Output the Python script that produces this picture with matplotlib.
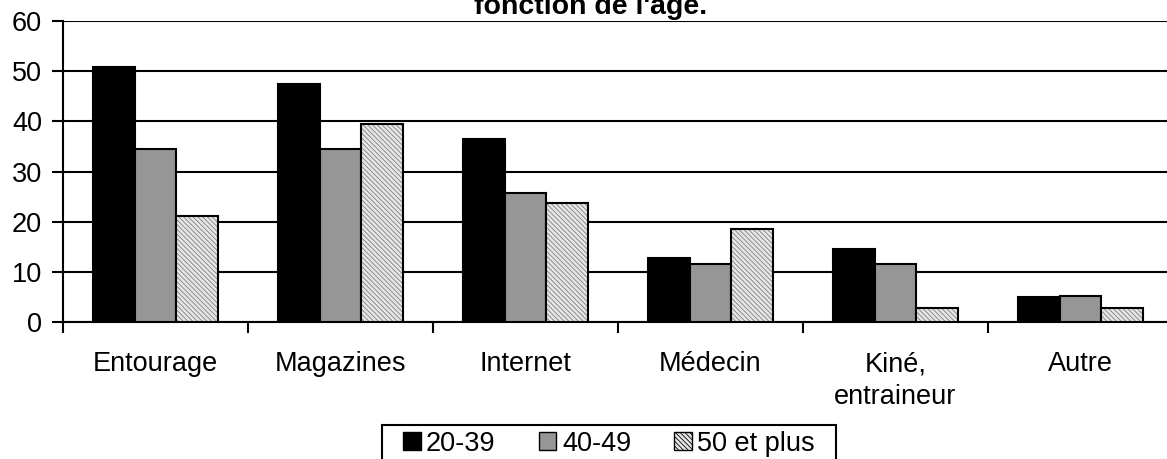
import numpy as np
import matplotlib.pyplot as plt
from matplotlib.patches import Patch, Rectangle

plt.rcParams['font.family'] = ['Liberation Sans', 'DejaVu Sans']
plt.rcParams['hatch.linewidth'] = 0.6

# données
categories = ['Entourage', 'Magazines', 'Internet', 'Médecin', 'Kiné,\nentraineur', 'Autre']
series_names = ['20-39', '40-49', '50 et plus']
v_20_39 = [50.9, 47.5, 36.5, 12.8, 14.5, 4.9]
v_40_49 = [34.5, 34.5, 25.7, 11.5, 11.5, 5.2]
v_50_plus = [21.1, 39.4, 23.7, 18.5, 2.7, 2.7]
y_ticks = [0, 10, 20, 30, 40, 50, 60]
title = "fonction de l'âge."

W, H = 1167, 459
fs = 19.5
fig = plt.figure(figsize=(W / 100, H / 100), dpi=100)
ax = fig.add_axes([63 / W, 1 - 322 / H, 1110 / W, 301 / H])

x = np.arange(len(categories))
w = 0.225
hatch = '\\\\\\\\\\\\\\'
styles = [
    dict(color='black'),
    dict(color='#969696'),
    dict(color='#e6e6e6', hatch=hatch),
]
all_vals = [v_20_39, v_40_49, v_50_plus]
for i, (vals, st) in enumerate(zip(all_vals, styles)):
    bars = ax.bar(x + (i - 1) * w, vals, w, edgecolor='black', linewidth=1.5,
                  zorder=3, **st)
    if 'hatch' in st:
        for b in bars:
            b._hatch_color = (0.5, 0.5, 0.5, 1)

ax.set_xlim(-0.5, len(categories) - 0.5)
ax.set_ylim(0, 60)
ax.set_yticks(y_ticks)
ax.yaxis.grid(True, color='black', linewidth=1.5, zorder=0)
ax.set_axisbelow(True)

ax.set_xticks(x)
ax.set_xticklabels(categories, fontsize=fs, linespacing=1.35)
ax.set_xticks(np.arange(-0.5, len(categories)), minor=True)
ax.tick_params(axis='x', which='major', length=0, pad=21)
ax.tick_params(axis='x', which='minor', length=8, width=1.5, direction='out')
ax.tick_params(axis='y', length=8, width=1.5, direction='out', labelsize=fs, pad=7)

for s in ['top', 'right']:
    ax.spines[s].set_visible(False)
for s in ['left', 'bottom']:
    ax.spines[s].set_linewidth(1.5)

fig.text(591 / W, 1 - 14 / H, title, ha='center', va='baseline',
         fontsize=20.5, fontweight='bold')

# légende (cadre dessiné à part)
handles = [Patch(facecolor='black', edgecolor='black'),
           Patch(facecolor='#969696', edgecolor='black'),
           Patch(facecolor='#e6e6e6', edgecolor='black', hatch=hatch)]
leg = fig.legend(handles, series_names, loc='upper center', ncol=3,
                 bbox_to_anchor=(609 / W, 1 - 428 / H), fontsize=fs,
                 frameon=False, handlelength=0.65, handleheight=0.65,
                 handletextpad=0.2, columnspacing=1.6, borderpad=0.1,
                 borderaxespad=0)
fig.patches.append(Rectangle((382 / W, -0.05), (836 - 382) / W, 0.05 + (459 - 425) / H,
                             transform=fig.transFigure, fill=False,
                             edgecolor='black', linewidth=1.5))

fig.savefig('out.png', dpi=100)
